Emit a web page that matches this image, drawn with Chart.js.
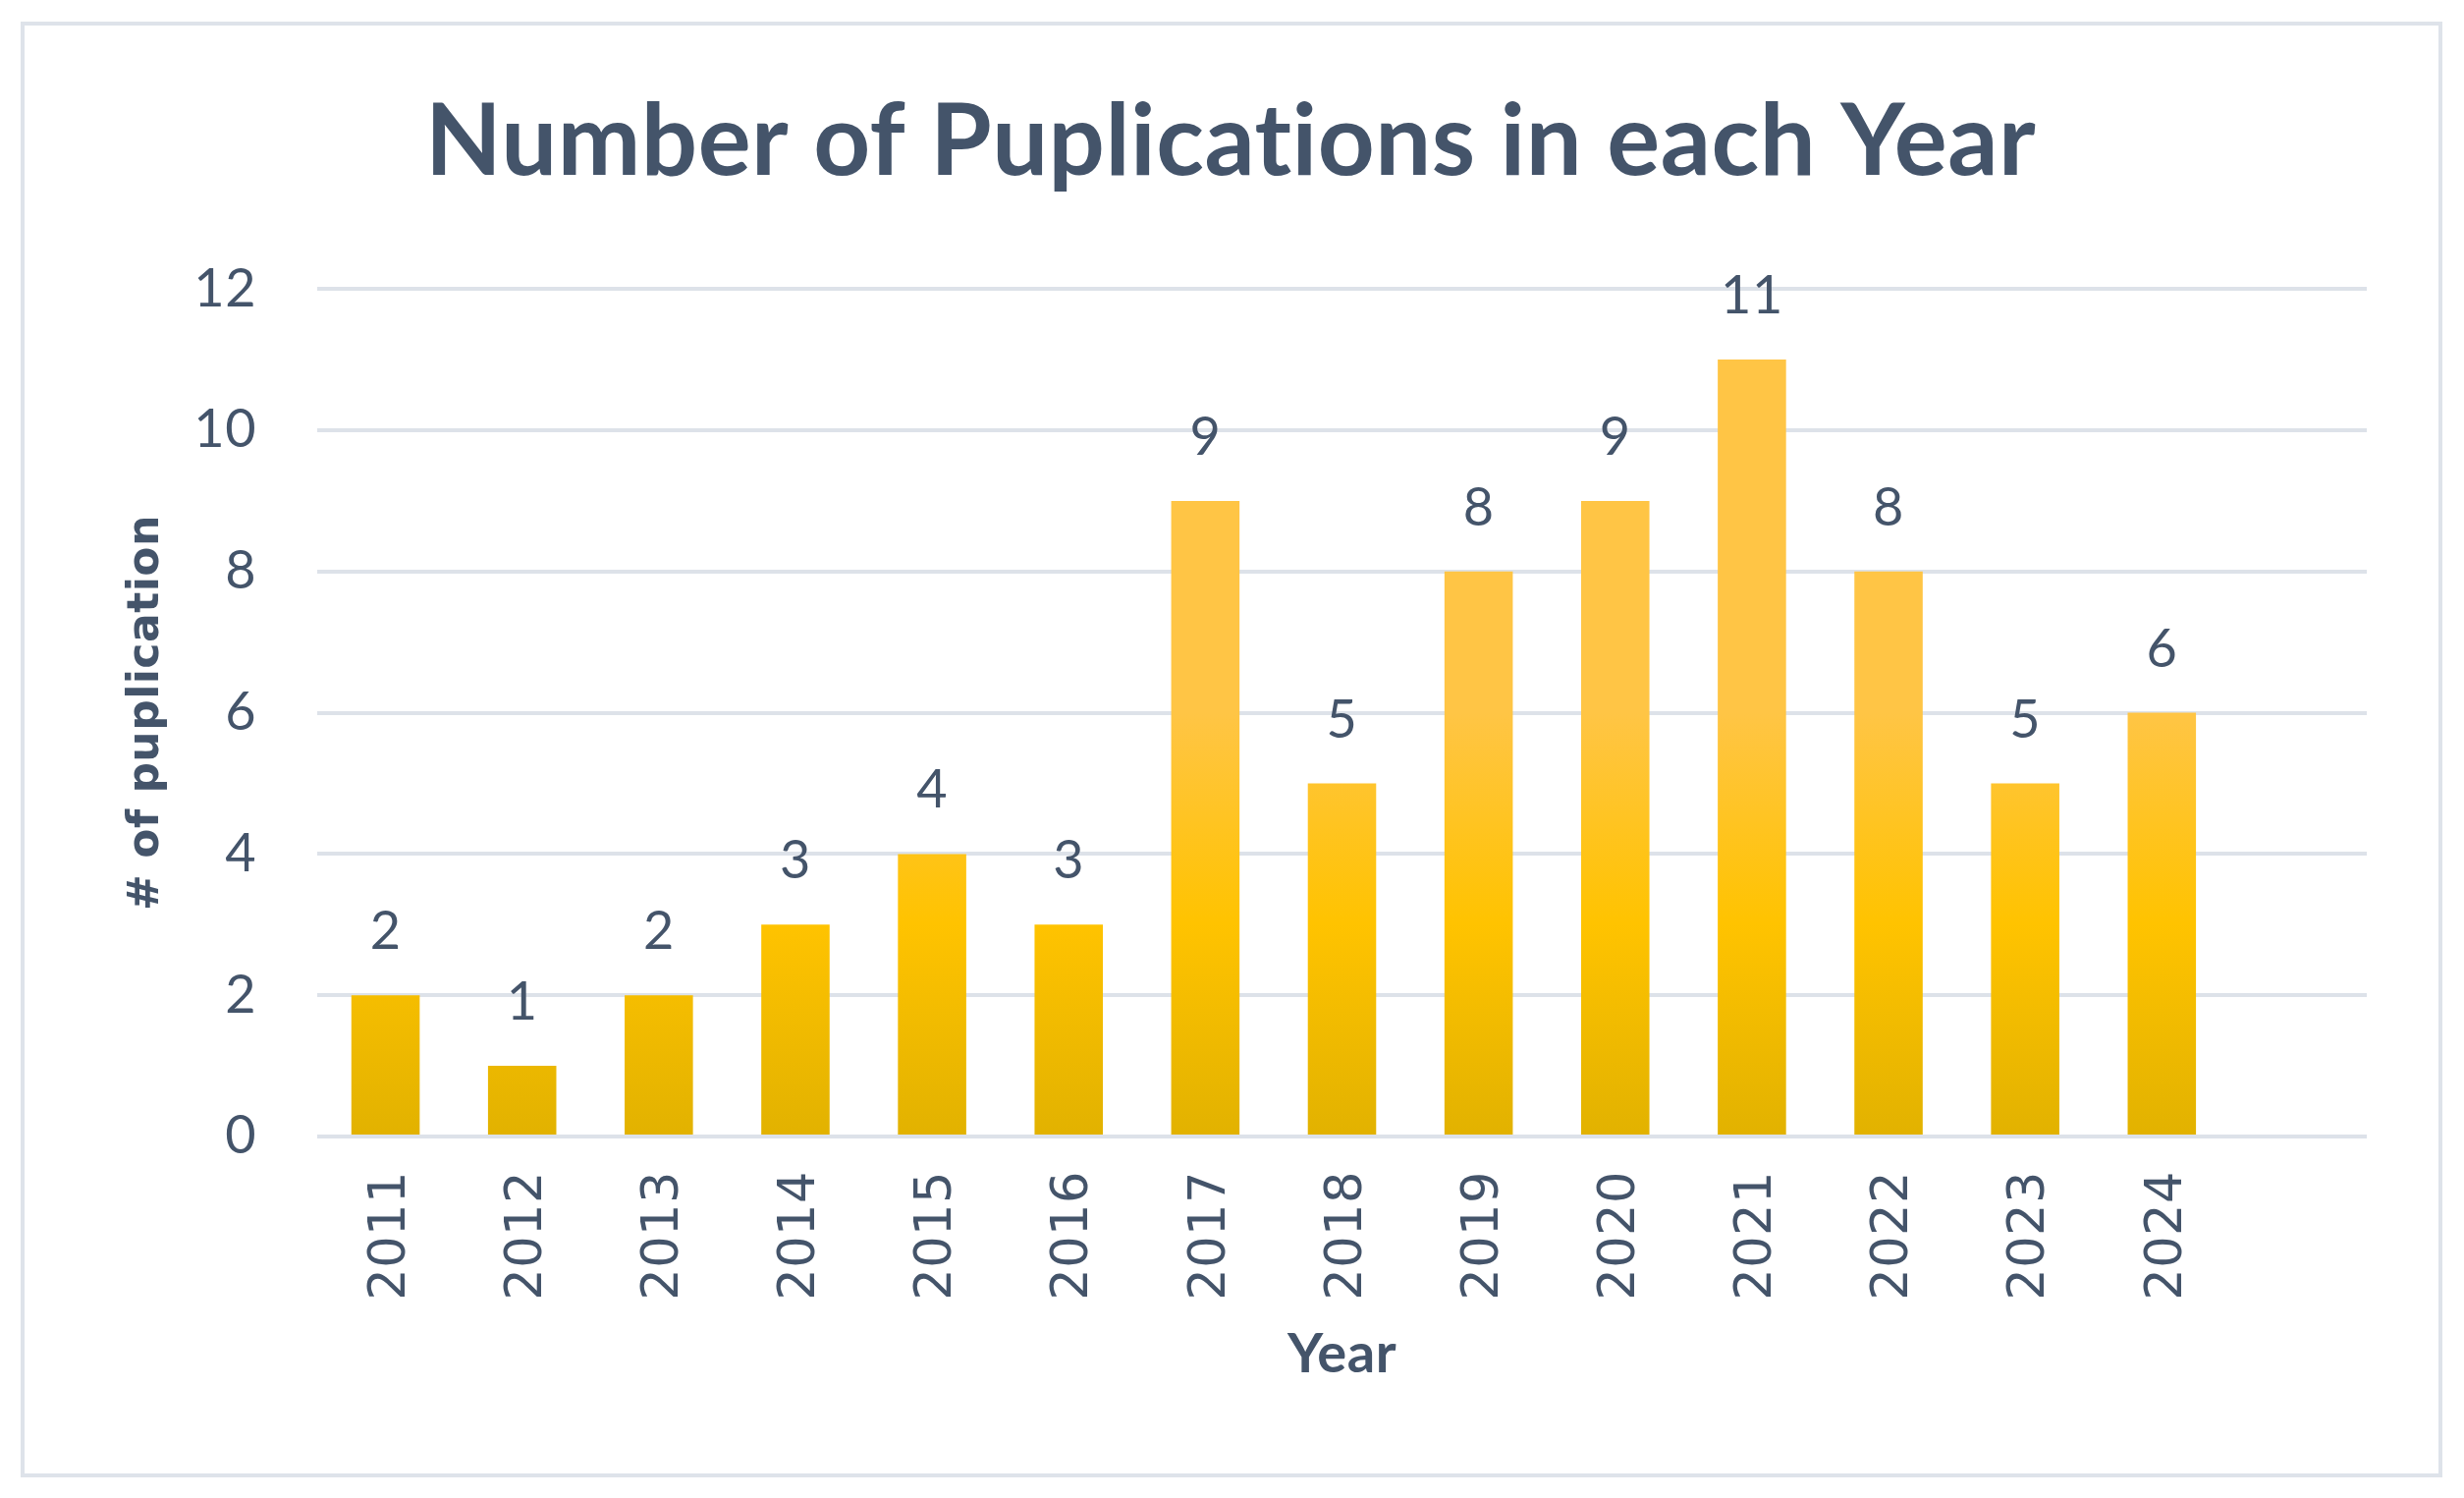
<!DOCTYPE html>
<html>
<head>
<meta charset="utf-8">
<script src="https://cdn.jsdelivr.net/npm/chart.js@4"></script>
<style>
  html, body { margin: 0; padding: 0; background: #ffffff; }
  #wrap { width: 2509px; height: 1525px; position: relative; }
  canvas { display: block; }
</style>
</head>
<body>
<div id="wrap"><canvas id="c" width="2509" height="1525"></canvas></div>
<script>
// ---- data ----
const categories = ['2011','2012','2013','2014','2015','2016','2017','2018','2019','2020','2021','2022','2023','2024',''];
const publications = [2, 1, 2, 3, 4, 3, 9, 5, 8, 9, 11, 8, 5, 6];
const yTicks = [0, 2, 4, 6, 8, 10, 12];
const titleText = 'Number of Puplications in each Year';
const xTitle = 'Year';
const yTitle = '# of puplication';

const TEXT = '#44546A';
const GRID = '#DDE2E9';

const borderPlugin = {
  id: 'frame',
  beforeDraw(chart) {
    const ctx = chart.ctx;
    ctx.save();
    ctx.fillStyle = '#ffffff';
    ctx.fillRect(0, 0, chart.width, chart.height);
    ctx.strokeStyle = '#DEE3EA';
    ctx.lineWidth = 4;
    ctx.strokeRect(23, 24, 2462, 1478);
    ctx.restore();
    // small letter spacing disables "ti" ligature of the substitute font
    if ('letterSpacing' in ctx) ctx.letterSpacing = '0.5px';
  }
};

const gradientPlugin = {
  id: 'barGradient',
  beforeDatasetsDraw(chart) {
    const ctx = chart.ctx;
    chart.getSortedVisibleDatasetMetas().forEach(meta => {
      meta.data.forEach(bar => {
        const top = bar.y, base = bar.base;
        const g = ctx.createLinearGradient(0, top, 0, base);
        g.addColorStop(0, '#FFC545');
        g.addColorStop(0.5, '#FFC300');
        g.addColorStop(1, '#E2B200');
        bar.options.backgroundColor = g;
      });
    });
  }
};

const labelPlugin = {
  id: 'valueLabels',
  afterDatasetsDraw(chart) {
    const ctx = chart.ctx;
    ctx.save();
    ctx.fillStyle = TEXT;
    ctx.font = '54px Lato';
    ctx.textAlign = 'center';
    ctx.textBaseline = 'alphabetic';
    const meta = chart.getDatasetMeta(0);
    meta.data.forEach((bar, i) => {
      const v = chart.data.datasets[0].data[i];
      if (v == null) return;
      ctx.fillText(String(v), bar.x, bar.y - 47);
    });
    ctx.restore();
  }
};

new Chart(document.getElementById('c'), {
  type: 'bar',
  data: {
    labels: categories,
    datasets: [{
      data: publications,
      backgroundColor: '#FFC000',
      borderWidth: 0,
      barPercentage: 0.5,
      categoryPercentage: 1.0
    }]
  },
  options: {
    responsive: false,
    animation: false,
    devicePixelRatio: 1,
    layout: { padding: { left: 96, right: 99, top: 0, bottom: 0 } },
    plugins: {
      legend: { display: false },
      tooltip: { enabled: false },
      title: {
        display: true,
        text: titleText,
        color: TEXT,
        font: { family: 'Lato', size: 101, weight: 'bold', lineHeight: 1.2 },
        padding: { top: 85, bottom: 88 }
      }
    },
    scales: {
      x: {
        grid: { display: false, drawTicks: false },
        border: { display: false },
        ticks: {
          color: TEXT,
          font: { family: 'DejaVu Sans', size: 51 },
          autoSkip: false,
          maxRotation: 90,
          minRotation: 90,
          padding: 35,
          labelOffset: 6
        },
        title: {
          display: true,
          text: xTitle,
          color: TEXT,
          font: { family: 'Lato', size: 56, weight: 'bold', lineHeight: 1.2 },
          padding: { top: 0, bottom: 112 }
        },
        afterFit(scale) { scale.height = 368; }
      },
      y: {
        min: 0,
        max: 12,
        afterBuildTicks(scale) { scale.ticks = yTicks.map(v => ({ value: v })); },
        grid: { color: GRID, lineWidth: 4, drawTicks: false },
        border: { display: false },
        ticks: {
          color: TEXT,
          font: { family: 'Lato', size: 54 },
          padding: 62
        },
        title: {
          display: true,
          text: yTitle,
          color: TEXT,
          font: { family: 'DejaVu Sans', size: 44, weight: 'bold', lineHeight: 1.2 },
          padding: { top: 27, bottom: 0 }
        },
        afterFit(scale) { scale.width = 227; }
      }
    }
  },
  plugins: [borderPlugin, gradientPlugin, labelPlugin]
});
</script>
</body>
</html>
